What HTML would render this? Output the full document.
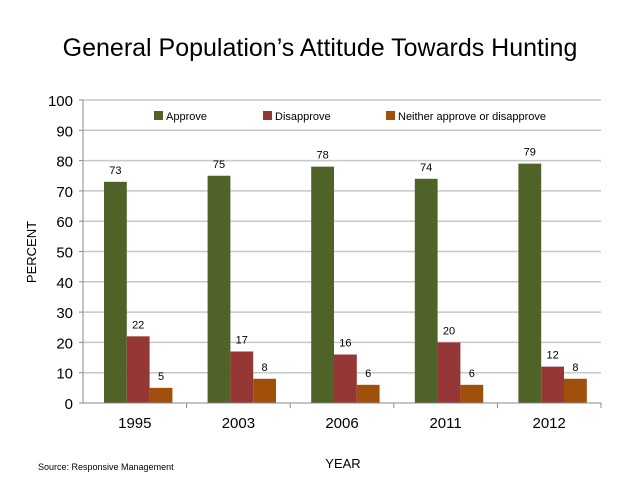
<!DOCTYPE html>
<html><head><meta charset="utf-8"><style>
body{margin:0;background:#fff;font-family:"Liberation Sans",sans-serif}
svg text{font-family:"Liberation Sans",sans-serif}
</style></head><body>
<svg width="640" height="496" viewBox="0 0 640 496">
<text x="320" y="56" text-anchor="middle" font-size="25" fill="#000">General Population’s Attitude Towards Hunting</text>
<g id="grid"></g><g id="bars"></g><g id="axes"></g>
<text transform="translate(36,252) rotate(-90)" text-anchor="middle" font-size="13">PERCENT</text>
<text x="343" y="468" text-anchor="middle" font-size="13">YEAR</text>
<text x="38" y="470" font-size="9">Source: Responsive Management</text>
<g>
<rect x="154" y="111" width="9" height="9" fill="#4f6228"/>
<text x="166" y="120" font-size="11">Approve</text>
<rect x="263" y="111" width="9" height="9" fill="#953735"/>
<text x="275" y="120" font-size="11">Disapprove</text>
<rect x="386" y="111" width="9" height="9" fill="#a0500a"/>
<text x="398" y="120" font-size="11">Neither approve or disapprove</text>
</g>
</svg>
<script>
const categories=["1995","2003","2006","2011","2012"];
const approve=[73,75,78,74,79];
const disapprove=[22,17,16,20,12];
const neither=[5,8,6,6,8];
const yTicks=[0,10,20,30,40,50,60,70,80,90,100];
const NS="http://www.w3.org/2000/svg";
const x0=83,x1=601,y0=403,y1=100;
const gw=(x1-x0)/categories.length,bw=22.8;
function y(v){return y0-(v/100)*(y0-y1);}
function mk(t,a,p){const e=document.createElementNS(NS,t);for(const k in a)e.setAttribute(k,a[k]);document.getElementById(p).appendChild(e);return e;}
yTicks.forEach(v=>{
  if(v>0){const l=mk('line',{x1:x0,x2:x1,y1:y(v),y2:y(v),stroke:'#c8c8c8','stroke-width':1.5},'grid');
  
  }
  const t=mk('text',{x:x0-10,y:y(v)+6,'text-anchor':'end','font-size':15},'axes');t.textContent=v;
  
  
  mk('line',{x1:x0-4,x2:x0,y1:y(v),y2:y(v),stroke:'#888'},'axes');
});
mk('line',{x1:x0,x2:x0,y1:y1,y2:y0,stroke:'#888'},'axes');
mk('line',{x1:x0,x2:x1,y1:y0,y2:y0,stroke:'#888'},'axes');
const series=[[approve,'#4f6228','approve'],[disapprove,'#953735','disapprove'],[neither,'#a0500a','neither']];
categories.forEach((c,i)=>{
  const gx=x0+i*gw;
  mk('line',{x1:gx+gw,x2:gx+gw,y1:y0,y2:y0+5,stroke:'#888'},'axes');
  const t=mk('text',{x:gx+gw/2,y:y0+25,'text-anchor':'middle','font-size':15},'axes');t.textContent=c;
  
  
  series.forEach((s,j)=>{
    const v=s[0][i],bx=gx+21+j*bw;
    const r=mk('rect',{x:bx,y:y(v),width:bw,height:y0-y(v),fill:s[1]},'bars');
    
    
    const lt=mk('text',{x:bx+bw/2,y:y(v)-8,'text-anchor':'middle','font-size':11},'bars');lt.textContent=v;
    
    
  });
});
</script>
</body></html>
